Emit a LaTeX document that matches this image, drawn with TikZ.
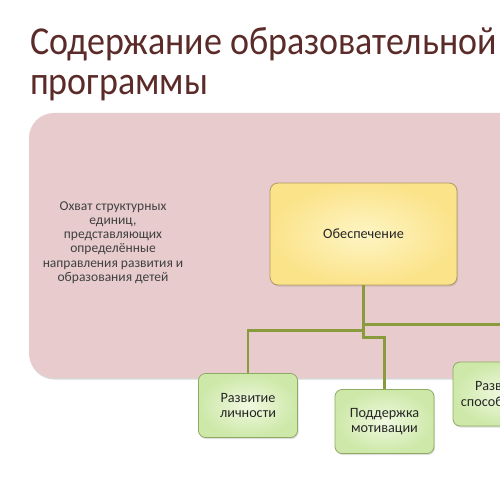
\documentclass[tikz,border=0pt]{standalone}
\usepackage{fontspec}
\setmainfont{Carlito}
\usetikzlibrary{shadows}

\definecolor{titlered}{HTML}{5A2B28}
\definecolor{pinkbg}{HTML}{E7CBCD}
\definecolor{yellowin}{HTML}{FEF5C4}
\definecolor{yellowout}{HTML}{FBE38A}
\definecolor{yellowline}{HTML}{B39A62}
\definecolor{greenin}{HTML}{F0F9E0}
\definecolor{greenout}{HTML}{CDE8A8}
\definecolor{greenline}{HTML}{8FAA62}
\definecolor{linkgreen}{HTML}{8A9B3E}

\tikzset{
  mainbox/.style={draw=yellowline, line width=0.8pt, rounded corners=8pt,
    inner color=yellowin, outer color=yellowout,
    minimum width=187pt, minimum height=102pt,
    font=\fontsize{14.2}{15}\selectfont, text=black!85,
    drop shadow={shadow xshift=1pt, shadow yshift=-1.5pt, opacity=0.25}},
  leafbox/.style={draw=greenline, line width=0.8pt, rounded corners=7pt,
    inner color=greenin, outer color=greenout,
    minimum width=99pt, minimum height=64pt, align=center,
    font=\fontsize{14.2}{15.5}\selectfont, text=black!85,
    drop shadow={shadow xshift=1pt, shadow yshift=-1.5pt, opacity=0.25}},
  link/.style={draw=linkgreen, line width=2.4pt},
  titletext/.style={anchor=base west, inner sep=0pt, text=titlered,
    font=\fontsize{36}{40}\selectfont}
}

\begin{document}
\begin{tikzpicture}[x=1pt, y=-1pt]
  \useasboundingbox (0,0) rectangle (500,500);
  \clip (0,0) rectangle (500,500);
  \fill[white] (0,0) rectangle (500,500);
  % title
  \node[titletext] (title1) at (30,55) {\scalebox{1}[1.1]{Содержание образовательной}};
  \node[titletext] (title2) at (30,95) {\scalebox{1}[1.1]{программы}};
  % pink background
  \fill[pinkbg, rounded corners=25pt,
        drop shadow={shadow xshift=0.5pt, shadow yshift=-1.5pt, opacity=0.3}]
        (29,113) rectangle (580,378);
  \node[align=center, text=black!75, font=\fontsize{13.5}{14.3}\selectfont] (okhvat) at (113,242.5)
        {Охват структурных\\единиц,\\представляющих\\определённые\\направления развития и\\образования детей};
  % boxes
  \node[mainbox] (obesp) at (363.5,234) {Обеспечение};
  \node[leafbox] (lichn) at (248,405.5) {Развитие\\личности};
  \node[leafbox] (motiv) at (384.5,421.5) {Поддержка\\мотивации};
  \node[leafbox] (sposob) at (502.5,394) {Развитие\\способностей};
  % links
  \draw[link] (obesp.south) -- ++(0,39) -| (sposob.north);
  \draw[link] (obesp.south) -- ++(0,45) -| (lichn.north);
  \draw[link] (obesp.south) -- ++(0,52) -| (motiv.north);
\end{tikzpicture}
\end{document}
